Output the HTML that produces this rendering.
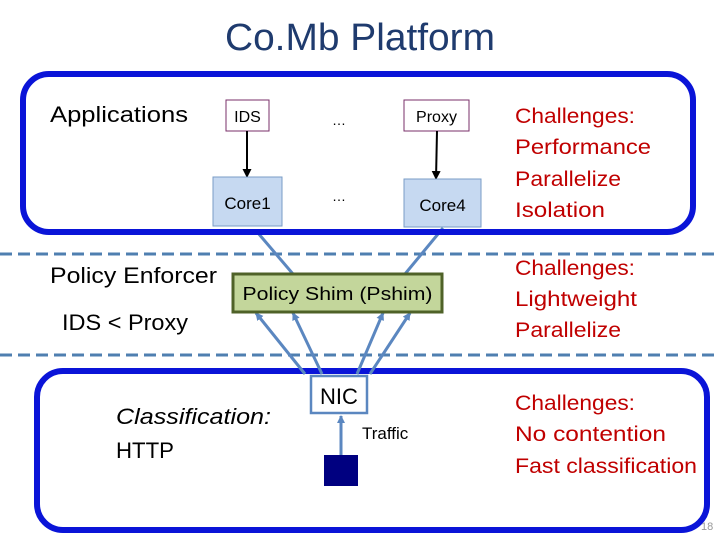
<!DOCTYPE html>
<html><head><meta charset="utf-8"><style>
html,body{margin:0;padding:0;background:#fff;}
svg{display:block;font-family:"Liberation Sans",sans-serif;}
</style></head><body>
<svg width="720" height="540" viewBox="0 0 720 540" xmlns="http://www.w3.org/2000/svg">
<defs>
<marker id="ab" markerWidth="8" markerHeight="8" refX="7" refY="4" orient="auto" markerUnits="userSpaceOnUse"><path d="M0,0 L8,4 L0,8 Z" fill="#5b87c0"/></marker>
<marker id="ak" markerWidth="9" markerHeight="9" refX="8" refY="4.5" orient="auto" markerUnits="userSpaceOnUse"><path d="M0,0 L9,4.5 L0,9 Z" fill="#000"/></marker>
</defs>
<rect width="720" height="540" fill="#fff"/>
<text x="360" y="50" font-size="38" fill="#1f3b6e" text-anchor="middle" textLength="270" lengthAdjust="spacingAndGlyphs">Co.Mb Platform</text>

<!-- dashed lines -->
<line x1="0" y1="254" x2="720" y2="254" stroke="#4f7fb0" stroke-width="3" stroke-dasharray="12,6"/>
<line x1="0" y1="355" x2="720" y2="355" stroke="#4f7fb0" stroke-width="3" stroke-dasharray="12,6"/>

<!-- arrows from pshim to cores -->
<line x1="293" y1="274" x2="258" y2="233" stroke="#5b87c0" stroke-width="3"/>
<line x1="405" y1="274" x2="443" y2="228" stroke="#5b87c0" stroke-width="3"/>

<!-- top box -->
<rect x="23" y="74" width="670" height="158" rx="26" fill="none" stroke="#0a14d8" stroke-width="6"/>
<!-- bottom box -->
<rect x="37" y="371" width="670" height="159" rx="26" fill="none" stroke="#0a14d8" stroke-width="6"/>

<text x="50" y="122" font-size="22" textLength="138" lengthAdjust="spacingAndGlyphs">Applications</text>
<rect x="226" y="100" width="43" height="31" fill="#fff" stroke="#7a2f6a" stroke-width="1"/>
<text x="247.5" y="122" font-size="16" text-anchor="middle">IDS</text>
<rect x="404" y="100" width="65" height="31" fill="#fff" stroke="#7a2f6a" stroke-width="1"/>
<text x="436.5" y="122" font-size="16" text-anchor="middle">Proxy</text>
<text x="339" y="125" font-size="14" text-anchor="middle">…</text>
<text x="339" y="201" font-size="14" text-anchor="middle">…</text>
<line x1="247" y1="131" x2="247" y2="177" stroke="#000" stroke-width="2" marker-end="url(#ak)"/>
<line x1="437" y1="131" x2="436" y2="179" stroke="#000" stroke-width="2" marker-end="url(#ak)"/>
<rect x="213" y="177" width="69" height="49" fill="#c6d9f1" stroke="#7a9cc6" stroke-width="1"/>
<text x="247.5" y="209" font-size="17" text-anchor="middle">Core1</text>
<rect x="404" y="179" width="77" height="48" fill="#c6d9f1" stroke="#7a9cc6" stroke-width="1"/>
<text x="442.5" y="211" font-size="17" text-anchor="middle">Core4</text>

<g fill="#c00000" font-size="21">
<text x="515" y="123" textLength="120" lengthAdjust="spacingAndGlyphs">Challenges:</text>
<text x="515" y="154" textLength="136" lengthAdjust="spacingAndGlyphs">Performance</text>
<text x="515" y="186" textLength="106" lengthAdjust="spacingAndGlyphs">Parallelize</text>
<text x="515" y="217" textLength="90" lengthAdjust="spacingAndGlyphs">Isolation</text>
<text x="515" y="275" textLength="120" lengthAdjust="spacingAndGlyphs">Challenges:</text>
<text x="515" y="306" textLength="122" lengthAdjust="spacingAndGlyphs">Lightweight</text>
<text x="515" y="337" textLength="106" lengthAdjust="spacingAndGlyphs">Parallelize</text>
<text x="515" y="410" textLength="120" lengthAdjust="spacingAndGlyphs">Challenges:</text>
<text x="515" y="441" textLength="151" lengthAdjust="spacingAndGlyphs">No contention</text>
<text x="515" y="473" textLength="182" lengthAdjust="spacingAndGlyphs">Fast classification</text>
</g>

<text x="50" y="283" font-size="22" textLength="167" lengthAdjust="spacingAndGlyphs">Policy Enforcer</text>
<text x="62" y="330" font-size="22" textLength="126" lengthAdjust="spacingAndGlyphs">IDS &lt; Proxy</text>

<!-- NIC arrows -->
<line x1="305" y1="374" x2="256" y2="313" stroke="#5b87c0" stroke-width="3" marker-end="url(#ab)"/>
<line x1="322" y1="374" x2="293" y2="313" stroke="#5b87c0" stroke-width="3" marker-end="url(#ab)"/>
<line x1="357" y1="374" x2="383" y2="313" stroke="#5b87c0" stroke-width="3" marker-end="url(#ab)"/>
<line x1="370" y1="374" x2="410" y2="313" stroke="#5b87c0" stroke-width="3" marker-end="url(#ab)"/>

<rect x="233" y="274" width="209" height="38" fill="#c3d69b" stroke="#4f6228" stroke-width="3"/>
<text x="337.5" y="300" font-size="18" text-anchor="middle" textLength="190" lengthAdjust="spacingAndGlyphs">Policy Shim (Pshim)</text>

<rect x="311" y="376" width="56" height="37" fill="#fff" stroke="#5b87c0" stroke-width="2.5"/>
<text x="339" y="404" font-size="22" text-anchor="middle">NIC</text>
<line x1="341" y1="455" x2="341" y2="416" stroke="#5b87c0" stroke-width="3" marker-end="url(#ab)"/>
<rect x="324" y="455" width="34" height="31" fill="#000080"/>
<text x="362" y="439" font-size="17">Traffic</text>

<text x="116" y="424" font-size="22" font-style="italic" textLength="155" lengthAdjust="spacingAndGlyphs">Classification:</text>
<text x="116" y="458" font-size="22" textLength="58" lengthAdjust="spacingAndGlyphs">HTTP</text>

<text x="701" y="530" font-size="11" fill="#999">18</text>
</svg>
</body></html>
